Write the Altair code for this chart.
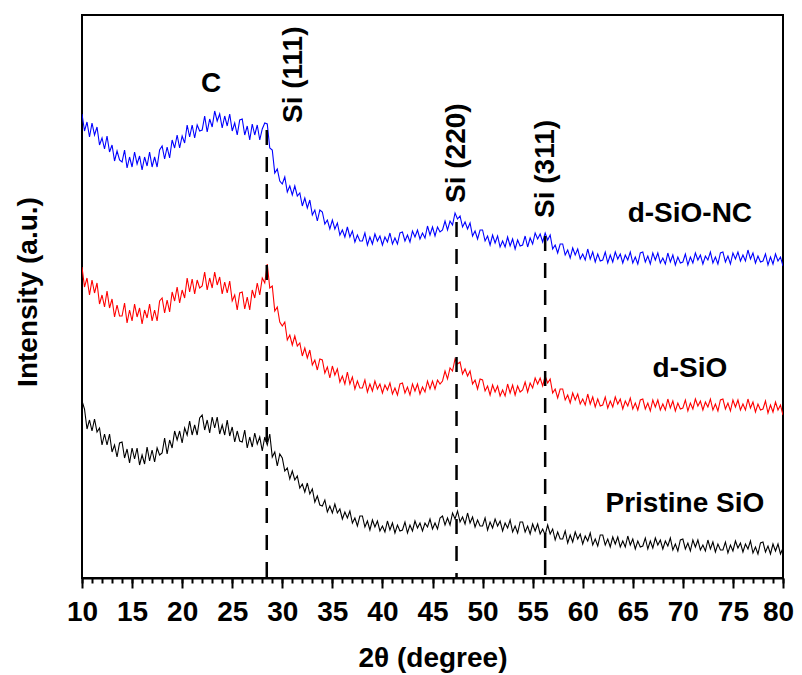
import altair as alt
import pandas as pd

# 2-theta sampling of the traces (degrees)
X_START = 10.0
X_STEP = 0.25

# intensities (a.u.), 16 values per 4 degrees
BLUE = [
    464, 447, 456, 441, 455, 443, 451, 433, 440, 429, 442, 426, 433, 417, 427, 418,
    416, 428, 410, 421, 411, 426, 414, 422, 408, 421, 412, 426, 411, 421, 411, 428,
    432, 419, 431, 420, 438, 430, 443, 430, 442, 435, 453, 441, 453, 440, 453, 447,
    448, 462, 446, 459, 451, 467, 457, 464, 450, 462, 452, 464, 447, 455, 443, 458,
    459, 443, 452, 438, 454, 443, 453, 438, 449, 455, 454, 430, 428, 405, 409, 397,
    394, 401, 386, 392, 383, 392, 382, 385, 372, 380, 370, 378, 363, 368, 357, 368,
    366, 354, 358, 349, 358, 349, 355, 343, 348, 341, 351, 341, 347, 336, 343, 337,
    337, 345, 333, 341, 334, 344, 337, 342, 333, 341, 336, 345, 334, 340, 334, 345,
    346, 337, 343, 336, 347, 341, 348, 339, 345, 340, 352, 343, 351, 342, 351, 346,
    348, 357, 348, 357, 353, 365, 359, 362, 351, 356, 349, 355, 342, 347, 339, 348,
    348, 337, 342, 333, 343, 335, 342, 331, 337, 331, 341, 332, 339, 329, 338, 332,
    333, 342, 331, 340, 334, 345, 339, 344, 336, 345, 338, 343, 329, 333, 325, 334,
    334, 323, 328, 320, 330, 323, 329, 319, 324, 318, 329, 319, 326, 316, 324, 317,
    318, 326, 315, 323, 316, 326, 319, 324, 315, 323, 318, 326, 315, 321, 314, 325,
    326, 316, 322, 314, 325, 318, 325, 315, 320, 314, 325, 316, 323, 313, 321, 315,
    316, 324, 313, 321, 315, 325, 318, 323, 314, 322, 318, 326, 315, 321, 314, 325,
    326, 316, 322, 314, 325, 319, 326, 317, 323, 317, 328, 319, 325, 315, 322, 316,
    317, 324, 313, 321, 314, 324, 317, 321, 312,
]

RED = [
    311, 291, 300, 283, 298, 285, 295, 274, 283, 271, 287, 270, 279, 261, 273, 262,
    262, 275, 255, 268, 257, 274, 261, 270, 254, 268, 260, 274, 257, 268, 257, 277,
    280, 265, 278, 266, 286, 277, 291, 275, 288, 280, 300, 286, 299, 284, 298, 290,
    292, 306, 288, 300, 290, 306, 293, 301, 284, 296, 285, 297, 277, 283, 268, 285,
    286, 269, 281, 268, 288, 280, 295, 283, 300, 295, 314, 290, 292, 267, 271, 256,
    252, 256, 238, 243, 233, 242, 232, 235, 222, 230, 220, 228, 213, 218, 208, 219,
    218, 205, 211, 200, 212, 203, 209, 196, 202, 194, 206, 194, 201, 189, 197, 190,
    190, 198, 186, 194, 187, 197, 189, 194, 185, 193, 188, 195, 184, 190, 183, 194,
    195, 185, 191, 183, 194, 187, 194, 184, 191, 186, 197, 189, 197, 189, 198, 194,
    197, 207, 199, 210, 207, 219, 214, 216, 204, 209, 202, 207, 194, 198, 189, 199,
    198, 187, 192, 183, 193, 186, 192, 182, 188, 182, 194, 185, 193, 183, 192, 186,
    188, 196, 186, 195, 190, 200, 194, 200, 192, 202, 195, 199, 185, 189, 180, 189,
    189, 178, 183, 175, 185, 178, 184, 174, 179, 173, 184, 174, 181, 171, 179, 172,
    173, 181, 170, 177, 171, 181, 174, 179, 169, 177, 172, 180, 169, 175, 168, 178,
    179, 169, 175, 167, 178, 171, 178, 168, 174, 168, 179, 170, 177, 167, 175, 169,
    170, 178, 167, 175, 169, 179, 172, 177, 168, 176, 171, 179, 168, 174, 167, 178,
    179, 169, 175, 167, 178, 171, 178, 168, 174, 168, 179, 170, 176, 166, 174, 168,
    169, 177, 165, 173, 166, 176, 168, 173, 163,
]

BLACK = [
    177, 169, 149, 158, 147, 159, 146, 150, 133, 144, 133, 144, 126, 133, 121, 135,
    136, 120, 129, 115, 130, 119, 130, 113, 123, 114, 131, 117, 128, 116, 130, 123,
    125, 140, 124, 138, 130, 147, 138, 147, 135, 150, 143, 157, 143, 153, 143, 160,
    163, 148, 158, 145, 161, 150, 161, 144, 153, 143, 158, 142, 151, 136, 147, 137,
    136, 148, 130, 141, 131, 145, 134, 141, 127, 141, 133, 144, 121, 126, 112, 124,
    120, 107, 110, 99, 107, 98, 102, 90, 94, 86, 95, 84, 89, 76, 82, 73,
    72, 78, 66, 72, 65, 74, 65, 69, 59, 66, 60, 67, 55, 60, 52, 62,
    62, 51, 57, 48, 58, 51, 57, 47, 52, 46, 57, 48, 55, 45, 53, 47,
    48, 56, 45, 53, 47, 57, 50, 55, 47, 55, 51, 59, 49, 55, 49, 60,
    62, 53, 60, 53, 65, 59, 67, 56, 61, 54, 65, 55, 61, 51, 58, 52,
    52, 60, 48, 56, 50, 59, 52, 57, 47, 55, 50, 58, 46, 52, 45, 56,
    56, 46, 52, 44, 54, 47, 54, 44, 49, 43, 53, 44, 49, 38, 46, 39,
    39, 47, 35, 43, 36, 46, 39, 44, 34, 42, 37, 45, 33, 39, 32, 43,
    43, 33, 39, 31, 41, 34, 41, 31, 37, 31, 42, 33, 39, 29, 37, 31,
    32, 40, 29, 37, 30, 40, 33, 38, 29, 37, 32, 40, 28, 34, 27, 38,
    39, 29, 35, 27, 38, 31, 38, 28, 33, 27, 38, 29, 36, 26, 34, 28,
    28, 36, 25, 33, 27, 37, 30, 35, 26, 34, 29, 37, 25, 31, 24, 35,
    36, 26, 32, 24, 34, 27, 34, 24, 30,
]

SERIES = ["d-SiO-NC", "d-SiO", "Pristine SiO"]
COLORS = ["#0000FF", "#FF0000", "#000000"]

# Si reflections (dashed markers)
PEAK_X = [28.45, 47.4, 56.25]
PEAK_TOP = [448, 356, 342]

# annotations
C_LABEL = ["C"]
C_X = [22.9]
C_Y = [494]
SI_LABELS = ["Si (111)", "Si (220)", "Si (311)"]
SI_X = [31.2, 47.45, 56.3]
SI_Y = [455, 375, 360]
SERIES_LABEL_X = [70.7, 70.7, 70.2]
SERIES_LABEL_Y = [364, 209, 74]

Y_TITLE = "Intensity (a.u.)"
X_TITLE = "2θ (degree)"

MAJOR_TICKS = list(range(10, 81, 5))
MINOR_TICKS = list(range(10, 81))

X_DOMAIN = [10, 80]
Y_DOMAIN = [0, 563]

FONT = "Liberation Sans"

for arr in (BLUE, RED, BLACK):
    assert len(arr) == 281, len(arr)

rows = []
for name, vals in zip(SERIES, [BLUE, RED, BLACK]):
    for i, v in enumerate(vals):
        rows.append({"series": name, "x": X_START + X_STEP * i, "y": v})
df = pd.DataFrame(rows)

xscale = alt.Scale(domain=X_DOMAIN, nice=False, zero=False)
yscale = alt.Scale(domain=Y_DOMAIN, nice=False, zero=False)

major_axis = alt.Axis(
    values=MAJOR_TICKS, tickSize=10, tickWidth=2, tickColor="black",
    domain=True, domainWidth=2, domainColor="black", grid=False,
    labelFont=FONT, labelFontSize=28, labelFontWeight="bold", labelColor="black",
    labelPadding=10, labelFlush=False, labelOverlap=False,
    labelOffset={"condition": {"test": "datum.value == 80", "value": -5}, "value": 0},
    title=X_TITLE, titleFont=FONT, titleFontSize=28, titleFontWeight="bold",
    titleColor="black", titleY=88, titleBaseline="alphabetic", orient="bottom",
)
minor_axis = alt.Axis(
    values=MINOR_TICKS, tickSize=5, tickWidth=2, tickColor="black",
    domain=False, grid=False, labels=False, title=None, orient="bottom",
)

lines = alt.Chart(df).mark_line(strokeWidth=1.1, clip=True).encode(
    x=alt.X("x:Q", scale=xscale, axis=major_axis),
    y=alt.Y("y:Q", scale=yscale, axis=None),
    color=alt.Color("series:N", scale=alt.Scale(domain=SERIES, range=COLORS), legend=None),
)

peaks_df = pd.DataFrame({"x": PEAK_X, "top": PEAK_TOP, "bottom": [0] * len(PEAK_X)})
rules = alt.Chart(peaks_df).mark_rule(
    color="black", strokeWidth=2.5, strokeDash=[15, 12]
).encode(
    x=alt.X("x:Q", scale=xscale, axis=minor_axis),
    y=alt.Y("top:Q", scale=yscale, axis=None),
    y2="bottom:Q",
)

c_df = pd.DataFrame({"label": C_LABEL, "x": C_X, "y": C_Y})
c_text = alt.Chart(c_df).mark_text(
    font=FONT, fontSize=28, fontWeight="bold", color="black",
    align="center", baseline="middle",
).encode(
    x=alt.X("x:Q", scale=xscale, axis=None),
    y=alt.Y("y:Q", scale=yscale, axis=None),
    text="label:N",
)

si_df = pd.DataFrame({"label": SI_LABELS, "x": SI_X, "y": SI_Y})
si_text = alt.Chart(si_df).mark_text(
    font=FONT, fontSize=28, fontWeight="bold", color="black",
    angle=270, align="left", baseline="middle",
).encode(
    x=alt.X("x:Q", scale=xscale, axis=None),
    y=alt.Y("y:Q", scale=yscale, axis=None),
    text="label:N",
)

sl_df = pd.DataFrame({"label": SERIES, "x": SERIES_LABEL_X, "y": SERIES_LABEL_Y})
series_text = alt.Chart(sl_df).mark_text(
    font=FONT, fontSize=28, fontWeight="bold", color="black",
    align="center", baseline="middle",
).encode(
    x=alt.X("x:Q", scale=xscale, axis=None),
    y=alt.Y("y:Q", scale=yscale, axis=None),
    text="label:N",
)

ytitle_df = pd.DataFrame({"label": [Y_TITLE]})
y_title = alt.Chart(ytitle_df).mark_text(
    font=FONT, fontSize=28, fontWeight="bold", color="black",
    angle=270, align="center", baseline="alphabetic",
).encode(
    x=alt.value(-45),
    y=alt.value(277),
    text="label:N",
)

chart = (
    alt.layer(lines, rules, c_text, si_text, series_text, y_title)
    .resolve_axis(x="independent")
    .properties(
        width=701, height=563,
        autosize=alt.AutoSizeParams(type="none"),
        padding={"left": 74, "top": 7, "right": 11, "bottom": 95},
        background="white",
    )
    .configure_view(stroke="black", strokeWidth=2)
)

chart.save("out.html", embed_options={"renderer": "svg", "actions": False})
